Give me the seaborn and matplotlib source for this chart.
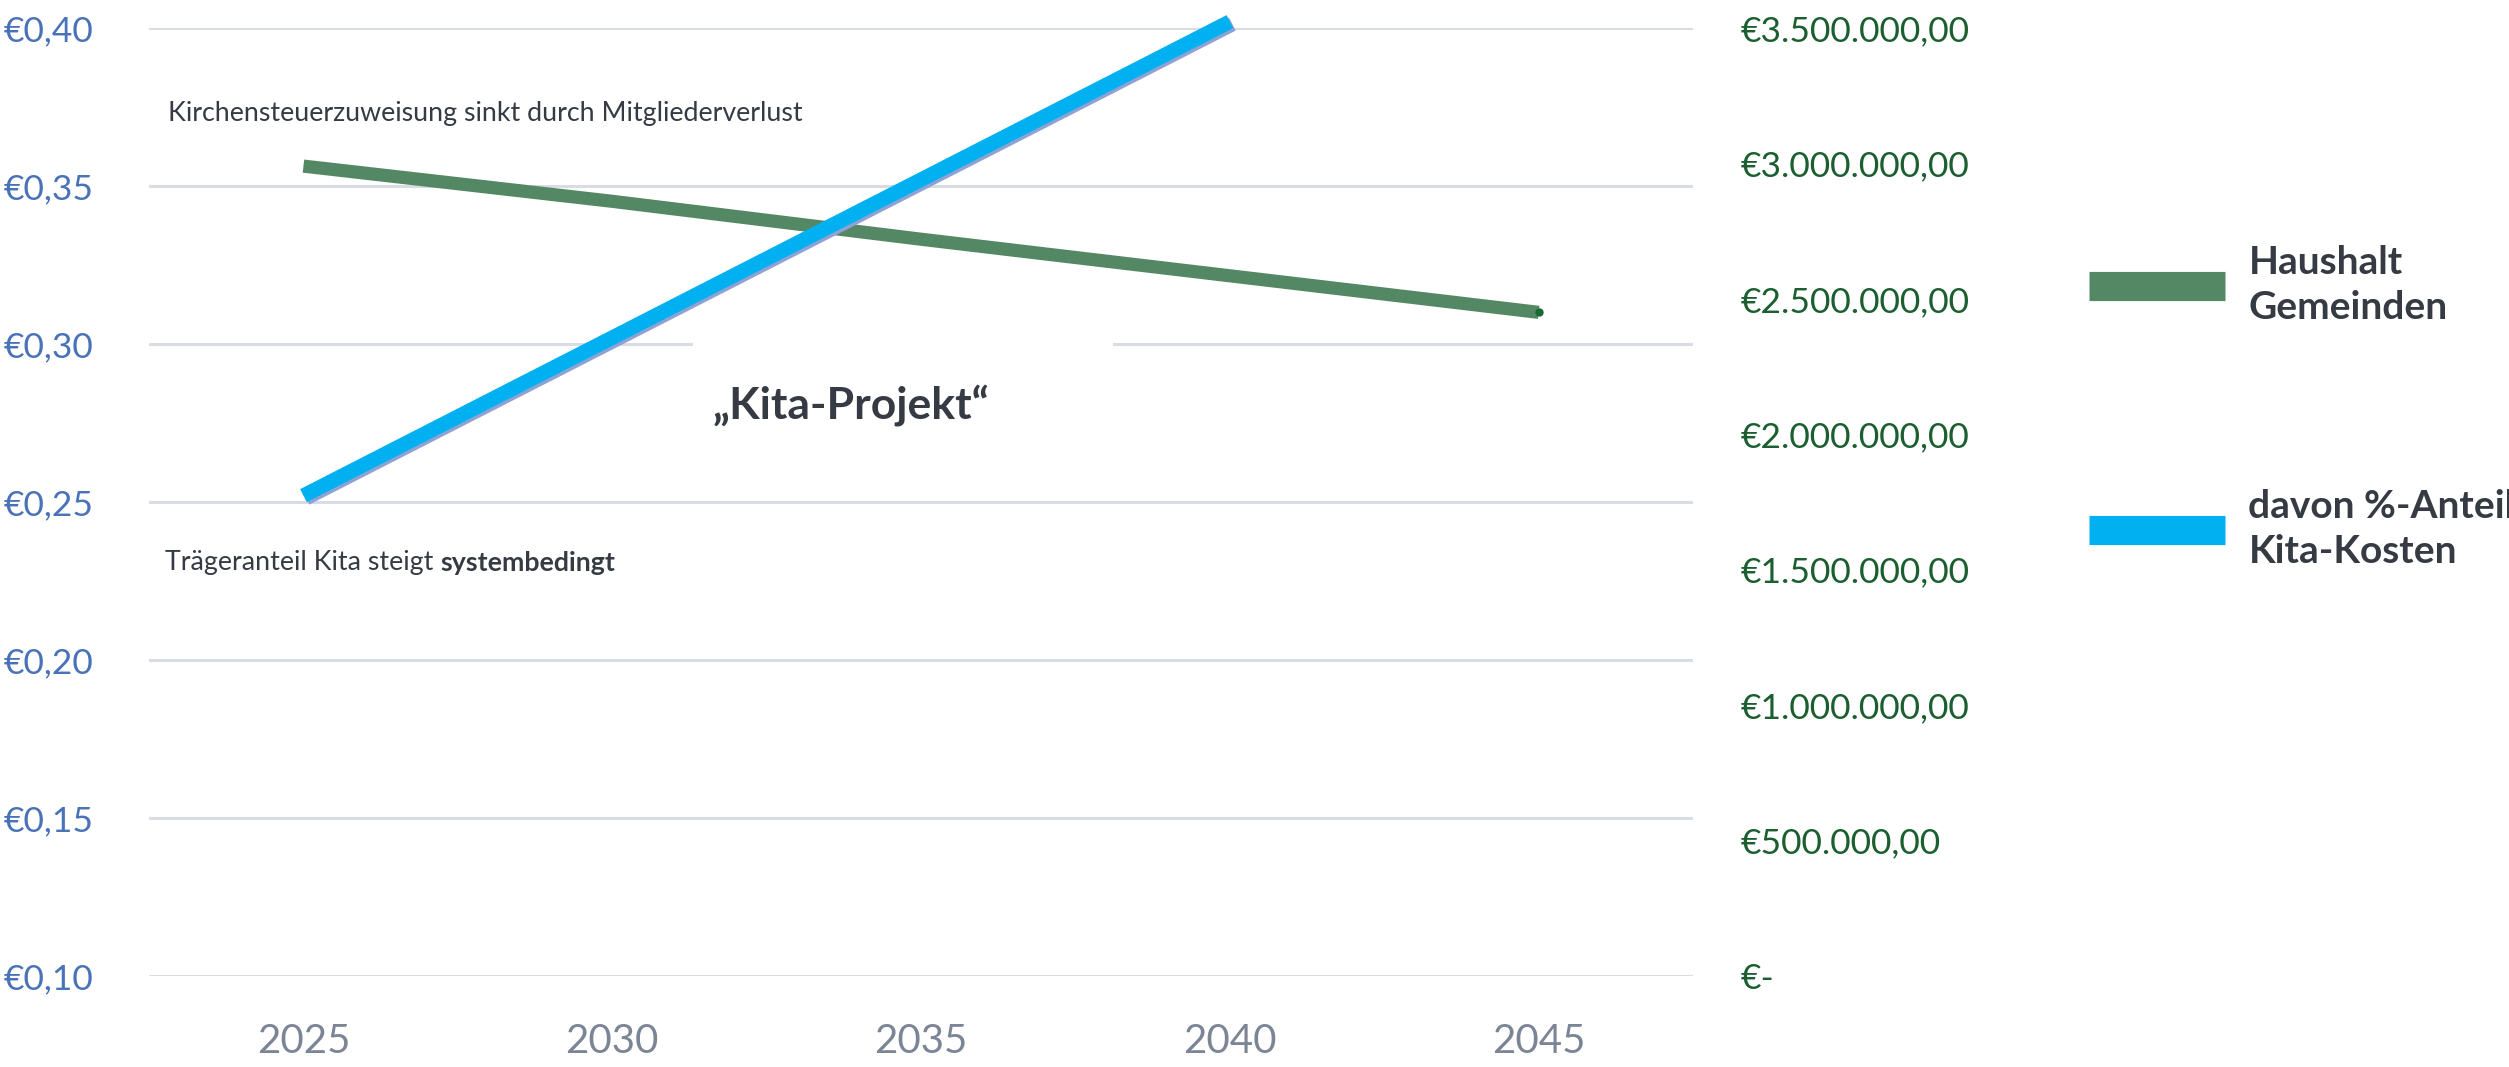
import numpy as np
import pandas as pd
import matplotlib
matplotlib.use("Agg")
import matplotlib.pyplot as plt
import matplotlib.patheffects as pe
from matplotlib.lines import Line2D
from matplotlib.patches import Rectangle
import seaborn as sns

# ---------------- data ----------------
years = [2025, 2030, 2035, 2040, 2045]
haushalt_gemeinden = [2990000, 2860000, 2720000, 2585000, 2450000]   # right axis (€)
kita_anteil = [0.252, 0.302, 0.352, 0.402, np.nan]                    # left axis (€)
left_ticks = [0.10, 0.15, 0.20, 0.25, 0.30, 0.35, 0.40]
left_labels = ["€0,10", "€0,15", "€0,20", "€0,25", "€0,30", "€0,35", "€0,40"]
right_ticks = [0, 500000, 1000000, 1500000, 2000000, 2500000, 3000000, 3500000]
right_labels = ["€-", "€500.000,00", "€1.000.000,00", "€1.500.000,00",
                "€2.000.000,00", "€2.500.000,00", "€3.000.000,00", "€3.500.000,00"]
series_names = ["Haushalt\nGemeinden", "davon %-Anteil\nKita-Kosten"]
note_top = "Kirchensteuerzuweisung sinkt durch Mitgliederverlust"
note_bottom_regular = "Trägeranteil Kita steigt "
note_bottom_bold = "systembedingt"
center_title = "„Kita-Projekt“"

df_green = pd.DataFrame({"year": years, "value": haushalt_gemeinden})
df_blue = pd.DataFrame({"year": years, "value": kita_anteil}).dropna()

# ---------------- style ----------------
sns.set_theme(style="white")
plt.rcParams["font.family"] = ["Lato", "DejaVu Sans"]

GREEN = "#548864"
BLUE = "#00b0f0"
SHADOW = "#8ea2d4"
LEFT_TXT = "#4a72b8"
RIGHT_TXT = "#1b5e2f"
X_TXT = "#7c8595"
DARK = "#363b43"
GRID = "#d9dde3"

fig = plt.figure(figsize=(25.09, 10.67), dpi=100)
fig.patch.set_facecolor("white")
ax = fig.add_axes([0.0594, 0.0853, 0.6154, 0.8885])
ax2 = ax.twinx()   # right axis (green)
ax3 = ax.twinx()   # left scale again, drawn on top (blue)

for a in (ax, ax2, ax3):
    a.set_facecolor("none")
    for s in a.spines.values():
        s.set_visible(False)

ax.set_xlim(2022.5, 2047.5)
ax.set_ylim(0.10, 0.40)
ax3.set_ylim(0.10, 0.40)
ax2.set_ylim(0, 3500000)

# grid (left scale)
ax.set_yticks(left_ticks)
ax.set_yticklabels(left_labels)
ax.yaxis.grid(True, color=GRID, linewidth=2.2)
ax.xaxis.grid(False)
ax.set_axisbelow(True)
ax.tick_params(axis="y", length=0, pad=40, labelsize=25.5, labelcolor=LEFT_TXT)
ax.set_xticks(years)
ax.set_xticklabels([str(y) for y in years])
ax.tick_params(axis="x", length=0, pad=34, labelsize=29, labelcolor=X_TXT)

ax2.set_yticks(right_ticks)
ax2.set_yticklabels(right_labels)
ax2.tick_params(axis="y", length=0, pad=34, labelsize=25.5, labelcolor=RIGHT_TXT)
ax2.grid(False)
for lab in ax2.get_yticklabels():
    lab.set_horizontalalignment("left")

ax3.set_yticks([])
ax3.grid(False)

# white text box interrupting the gridline
ax.add_patch(Rectangle((2031.3, 0.262), 6.8, 0.0395, facecolor="white",
                       edgecolor="none", zorder=1))

# lines
sns.lineplot(data=df_green, x="year", y="value", ax=ax2, color=GREEN,
             linewidth=9.5, solid_capstyle="butt", legend=False, clip_on=False)
ax2.plot(years[-1:], haushalt_gemeinden[-1:], marker="o", markersize=5,
         color="#17692f", linestyle="none", clip_on=False, zorder=3)
sns.lineplot(data=df_blue, x="year", y="value", ax=ax3, color=BLUE,
             linewidth=10.5, solid_capstyle="butt", legend=False, clip_on=False,
             path_effects=[pe.SimpleLineShadow(offset=(1.8, -1.8), shadow_color=SHADOW,
                                               alpha=1.0), pe.Normal()])
for a in (ax, ax2, ax3):
    a.set_xlabel("")
    a.set_ylabel("")
ax3.set_xlim(2022.5, 2047.5)

# annotations
ax3.text(2022.81, 0.3728, note_top, fontsize=19.3, color=DARK, va="center", ha="left")
t1 = ax3.text(2022.76, 0.2307, note_bottom_regular, fontsize=19.3, color=DARK,
              va="center", ha="left")
ax3.annotate(note_bottom_bold, xy=(1, 0), xycoords=t1, va="bottom", ha="left",
             fontsize=19.3, color=DARK, fontweight="bold")
ax3.text(2031.63, 0.2765, center_title, fontsize=32, color=DARK,
         fontweight="bold", va="baseline", ha="left")

# legend
handles = [Line2D([0], [0], color=GREEN, linewidth=21, solid_capstyle="butt"),
           Line2D([0], [0], color=BLUE, linewidth=21, solid_capstyle="butt")]
leg = fig.legend(handles, series_names, loc="center left",
                 bbox_to_anchor=(0.8326, 0.6186), frameon=False,
                 prop={"family": ["Lato", "DejaVu Sans"], "weight": "bold", "size": 28},
                 handlelength=3.5, handletextpad=0.6, labelspacing=4.2,
                 borderpad=0, borderaxespad=0)
for txt in leg.get_texts():
    txt.set_color(DARK)
    txt.set_linespacing(1.35)

fig.savefig("out.png", dpi=100, facecolor="white")
